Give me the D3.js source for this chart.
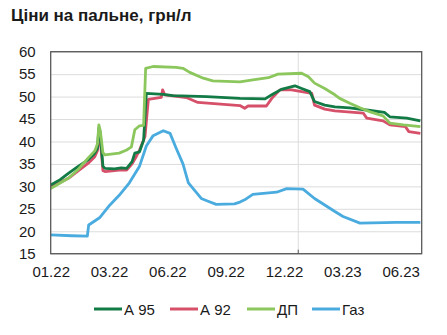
<!DOCTYPE html>
<html>
<head>
<meta charset="utf-8">
<script src="https://cdn.jsdelivr.net/npm/d3@7"></script>
<style>
  body { margin: 0; background: #fff; }
  svg { display: block; font-family: "Liberation Sans", Arial, sans-serif; }
</style>
</head>
<body>
<svg id="chart" width="447" height="335"></svg>
<script>
// fuel prices, UAH per litre
var a95 = [
  ["2022-01-01", 30.3], ["2022-01-15", 31.5], ["2022-01-27", 32.9], ["2022-02-10", 34.4],
  ["2022-02-25", 35.9], ["2022-03-07", 37.4], ["2022-03-11", 38.5], ["2022-03-13", 43.0],
  ["2022-03-15", 42.0], ["2022-03-19", 34.5], ["2022-03-22", 34.0], ["2022-04-05", 33.9],
  ["2022-04-15", 34.1], ["2022-04-23", 34.0], ["2022-05-01", 35.5], ["2022-05-05", 37.4],
  ["2022-05-12", 37.7], ["2022-05-18", 40.3], ["2022-05-22", 50.7], ["2022-06-16", 50.5],
  ["2022-06-30", 50.2], ["2022-08-19", 50.0], ["2022-10-07", 49.6], ["2022-11-13", 49.5],
  ["2022-11-23", 50.4], ["2022-12-07", 51.6], ["2022-12-27", 52.4], ["2023-01-06", 51.8],
  ["2023-01-18", 51.1], ["2023-01-25", 48.9], ["2023-02-09", 48.1], ["2023-02-24", 47.7],
  ["2023-03-18", 47.5], ["2023-04-17", 46.9], ["2023-05-08", 46.5], ["2023-05-16", 45.5],
  ["2023-06-10", 45.2], ["2023-06-30", 44.6]
];

var a92 = [
  ["2022-01-01", 29.8], ["2022-01-27", 31.8], ["2022-02-10", 33.4], ["2022-02-25", 35.1],
  ["2022-03-07", 36.6], ["2022-03-11", 38.0], ["2022-03-13", 41.5], ["2022-03-15", 40.5],
  ["2022-03-19", 33.5], ["2022-03-22", 33.3], ["2022-04-12", 33.6], ["2022-04-23", 33.6],
  ["2022-05-01", 35.0], ["2022-05-07", 36.6], ["2022-05-12", 38.1], ["2022-05-20", 41.1],
  ["2022-05-25", 49.4], ["2022-06-13", 49.8], ["2022-06-15", 51.5], ["2022-06-18", 50.4],
  ["2022-07-20", 49.8], ["2022-08-06", 48.7], ["2022-10-07", 48.0], ["2022-10-14", 47.4],
  ["2022-10-19", 47.9], ["2022-11-15", 47.9], ["2022-11-23", 49.6], ["2022-12-05", 51.5],
  ["2022-12-22", 51.5], ["2023-01-06", 51.1], ["2023-01-21", 50.7], ["2023-01-25", 48.1],
  ["2023-02-09", 47.2], ["2023-02-24", 46.8], ["2023-04-07", 46.3], ["2023-04-12", 45.2],
  ["2023-05-06", 44.6], ["2023-05-16", 43.7], ["2023-06-08", 43.3], ["2023-06-13", 42.2],
  ["2023-06-30", 41.8]
];

var diesel = [
  ["2022-01-01", 29.5], ["2022-01-27", 31.8], ["2022-02-10", 33.7], ["2022-02-25", 36.3],
  ["2022-03-07", 37.9], ["2022-03-11", 39.5], ["2022-03-13", 43.7], ["2022-03-15", 42.5],
  ["2022-03-19", 37.5], ["2022-03-22", 37.0], ["2022-04-12", 37.4], ["2022-04-23", 38.1],
  ["2022-04-30", 38.8], ["2022-05-05", 42.6], ["2022-05-12", 43.5], ["2022-05-18", 43.6],
  ["2022-05-21", 56.3], ["2022-06-01", 56.7], ["2022-07-05", 56.5], ["2022-07-15", 56.3],
  ["2022-07-25", 55.4], ["2022-08-14", 54.1], ["2022-08-28", 53.5], ["2022-10-07", 53.3],
  ["2022-10-26", 53.7], ["2022-11-18", 54.2], ["2022-12-02", 55.0], ["2023-01-06", 55.2],
  ["2023-01-16", 54.4], ["2023-01-25", 53.0], ["2023-02-09", 51.8], ["2023-02-24", 50.4],
  ["2023-03-03", 49.6], ["2023-03-18", 48.5], ["2023-04-02", 47.5], ["2023-04-17", 46.6],
  ["2023-05-06", 45.7], ["2023-05-16", 44.1], ["2023-06-05", 43.7], ["2023-06-30", 43.3]
];

var gas = [
  ["2022-01-01", 19.2], ["2022-02-01", 19.0], ["2022-02-24", 18.9], ["2022-02-26", 21.4],
  ["2022-03-14", 23.0], ["2022-03-29", 25.8], ["2022-04-12", 28.0], ["2022-04-27", 30.8],
  ["2022-05-12", 34.5], ["2022-05-22", 39.0], ["2022-06-01", 41.3], ["2022-06-16", 42.4],
  ["2022-06-26", 41.8], ["2022-07-05", 38.5], ["2022-07-15", 35.0], ["2022-07-23", 30.8],
  ["2022-08-11", 27.3], ["2022-08-21", 26.7], ["2022-09-02", 26.0], ["2022-09-29", 26.1],
  ["2022-10-07", 26.5], ["2022-10-14", 27.0], ["2022-10-26", 28.2], ["2022-11-30", 28.7],
  ["2022-12-15", 29.5], ["2023-01-08", 29.4], ["2023-01-25", 27.3], ["2023-02-24", 24.4],
  ["2023-03-08", 23.3], ["2023-04-02", 21.8], ["2023-05-26", 22.0], ["2023-06-30", 22.0]
];

var seriesNames = ["А 95", "А 92", "ДП", "Газ"];
var seriesColors = ["#117a45", "#d6506a", "#8cc75d", "#4aabdf"];
var yTicks = [15, 20, 25, 30, 35, 40, 45, 50, 55, 60];
var xTickDates = ["2022-01-01", "2022-03-28", "2022-06-22", "2022-09-16", "2022-12-11", "2023-03-07", "2023-06-01"];
var yearLine = "2023-01-01";

var parse = d3.timeParse("%Y-%m-%d");
var svg = d3.select("#chart");

var plotLeft = 50.7, plotRight = 421.7, plotTop = 51.7, plotBottom = 253.7;

var x = d3.scaleTime()
  .domain([parse("2022-01-01"), parse("2023-07-02")])
  .range([plotLeft, plotRight]);
var y = d3.scaleLinear().domain([15, 60]).range([plotBottom, plotTop]);

// title
svg.append("text")
  .attr("x", 11).attr("y", 21)
  .attr("font-size", 17).attr("font-weight", "bold").attr("fill", "#1a1a1a")
  .text("Ціни на пальне, грн/л");

// grid
svg.append("g")
  .attr("transform", "translate(" + plotLeft + ",0)")
  .call(d3.axisLeft(y).tickValues(yTicks).tickSize(-(plotRight - plotLeft)).tickFormat(""))
  .call(function (g) { g.select(".domain").remove(); })
  .selectAll("line").attr("stroke", "#dcdcdc").attr("stroke-width", 1);

// vertical line at the year change
svg.append("line")
  .attr("x1", x(parse(yearLine))).attr("x2", x(parse(yearLine)))
  .attr("y1", plotTop).attr("y2", plotBottom)
  .attr("stroke", "#dcdcdc");
svg.append("line")
  .attr("x1", x(parse(yearLine))).attr("x2", x(parse(yearLine)))
  .attr("y1", plotBottom - 4).attr("y2", plotBottom)
  .attr("stroke", "#595959");

// y axis labels
var yAxis = svg.append("g")
  .attr("transform", "translate(" + plotLeft + ",0)")
  .call(d3.axisLeft(y).tickValues(yTicks).tickSize(0).tickPadding(15));
yAxis.select(".domain").remove();
yAxis.selectAll("text").attr("font-size", 15).attr("fill", "#1a1a1a")
  .attr("font-family", "Liberation Sans, Arial, sans-serif");

// x axis labels
var xAxis = svg.append("g")
  .attr("transform", "translate(0," + plotBottom + ")")
  .call(d3.axisBottom(x).tickValues(xTickDates.map(parse)).tickSize(0).tickPadding(13)
    .tickFormat(d3.timeFormat("%m.%y")));
xAxis.select(".domain").remove();
xAxis.selectAll("text").attr("font-size", 15).attr("fill", "#1a1a1a")
  .attr("font-family", "Liberation Sans, Arial, sans-serif");

// lines
var line = d3.line()
  .x(function (d) { return x(parse(d[0])); })
  .y(function (d) { return y(d[1]); });

var allSeries = [a95, a92, diesel, gas];
[3, 1, 0, 2].forEach(function (i) {
  svg.append("path")
    .datum(allSeries[i])
    .attr("d", line)
    .attr("fill", "none")
    .attr("stroke", seriesColors[i])
    .attr("stroke-width", 2.8)
    .attr("stroke-linejoin", "round");
});

// plot frame
svg.append("rect")
  .attr("x", plotLeft).attr("y", plotTop)
  .attr("width", plotRight - plotLeft).attr("height", plotBottom - plotTop)
  .attr("fill", "none").attr("stroke", "#595959").attr("stroke-width", 1.3);

// legend
var legendX = [94, 170, 247, 312];
var legend = svg.append("g");
seriesNames.forEach(function (name, i) {
  legend.append("line")
    .attr("x1", legendX[i]).attr("x2", legendX[i] + 28)
    .attr("y1", 309).attr("y2", 309)
    .attr("stroke", seriesColors[i]).attr("stroke-width", 3);
  legend.append("text")
    .attr("x", legendX[i] + 30).attr("y", 314.5)
    .attr("font-size", 15).attr("fill", "#1a1a1a")
    .text(name);
});
</script>
</body>
</html>
